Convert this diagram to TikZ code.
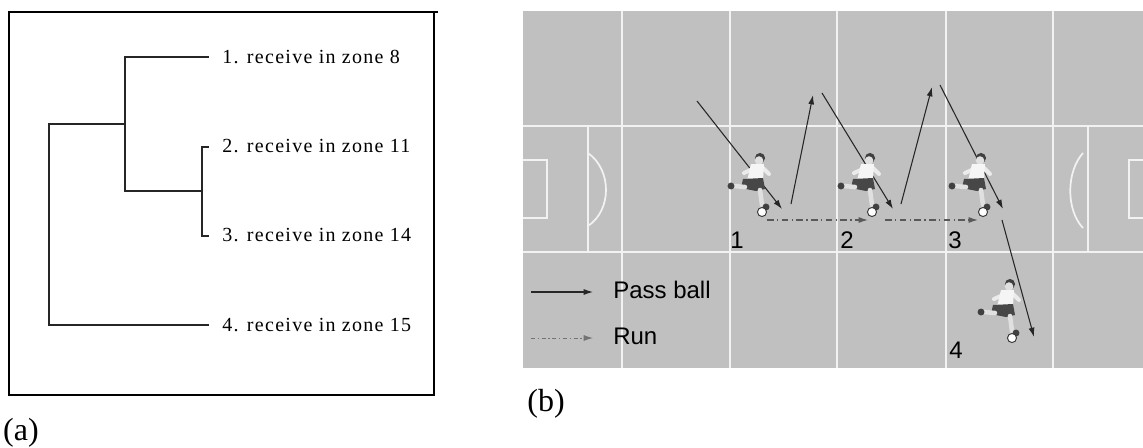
\documentclass[tikz,border=0pt]{standalone}
\usepackage{fontspec}
\setmainfont{Liberation Serif}
\setsansfont{Liberation Sans}
\newfontfamily\treefont[LetterSpace=6.5]{Liberation Serif}
\usetikzlibrary{arrows.meta}

\definecolor{pitch}{RGB}{192,192,192}

\tikzset{
  treeline/.style={line width=1.1pt, black!85},
  leaf/.style={anchor=west, inner sep=0pt, font=\treefont\fontsize{15}{17}\selectfont},
  pitchline/.style={white!95!black, line width=1.3pt},
  pass/.style={line width=0.8pt, black!85, -{Latex[length=7pt,width=4.5pt]}},
  run/.style={line width=0.9pt, black!65, dash pattern=on 5pt off 2.5pt on 1pt off 2.5pt, -{Latex[length=7pt,width=4.5pt]}},
  tag/.style={font=\sffamily\fontsize{18}{20}\selectfont, inner sep=0pt},
  player/.pic={
    % hair and face
    \fill[black!75] (1,-1) circle (3.8pt);
    \fill[black!12] (0,1.5) circle (3.2pt);
    % arms
    \draw[black!8, line width=3pt, line cap=round] (-4,9) -- (-15,14);
    \draw[black!8, line width=3pt, line cap=round] (4,9) -- (10,15);
    % shirt
    \fill[black!4] (-8,5) -- (5,5) -- (4,21) -- (-12,22) -- cycle;
    % shorts
    \fill[black!72] (-16,20) -- (4,19) -- (6,30) -- (-3,32) -- (-18,29) -- cycle;
    % legs
    \draw[black!12, line width=3.4pt, line cap=round] (-14,28) -- (-25,27);
    \draw[black!12, line width=3.4pt, line cap=round] (1,31) -- (3,46);
    % boots
    \fill[black!75] (-28,27) circle (2.6pt);
    \fill[black!75] (7,48) circle (2.6pt);
    % ball
    \filldraw[fill=white, draw=black!80, line width=0.7pt] (3,53) circle (3.4pt);
  }
}

\begin{document}
\begin{tikzpicture}[x=0.75pt, y=-0.75pt]
    \useasboundingbox (0,0) rectangle (1143,447);

    % (a) decision tree
    \draw[line width=1.5pt] (9,12) rectangle (434,395);
    \draw[line width=1.5pt] (434,12) -- (438,12);

    \node[leaf] (l1) at (222,57) {1. receive in zone 8};
    \node[leaf] (l2) at (222,146) {2. receive in zone 11};
    \node[leaf] (l3) at (222,235) {3. receive in zone 14};
    \node[leaf] (l4) at (222,325) {4. receive in zone 15};

    \coordinate (e1) at (209,57);
    \coordinate (e2) at (209,147);
    \coordinate (e3) at (209,236);
    \coordinate (e4) at (209,325);
    \coordinate (m) at (125,191);
    \coordinate (n) at (202,191);
    \coordinate (r) at (49,124);

    \draw[treeline] (e1) -| (m) -- (n);
    \draw[treeline] (e2) -| (n) |- (e3);
    \draw[treeline] (e4) -| (r) -- (m |- r);

    \node[font=\fontsize{24}{28}\selectfont, inner sep=0pt] (capa) at (21,433) {(a)};

    % (b) pitch
    \fill[pitch] (523,11) rectangle (1143,368);
    \draw[pitchline] (523,126) -- (1143,126);
    \draw[pitchline] (523,252) -- (1143,252);
    \foreach \x in {622,730,946,1053}
        \draw[pitchline] (\x,11) -- (\x,368);
    \draw[pitchline, line width=1.7pt] (837,11) -- (837,368);

    % left box
    \draw[pitchline] (588,126) -- (588,252);
    \draw[pitchline] (523,160) -- (547,160) -- (547,218) -- (523,218);
    \draw[pitchline] (588,153) .. controls (612,170) and (612,210) .. (588,226);

    % right box
    \draw[pitchline] (1088,126) -- (1088,252);
    \draw[pitchline] (1143,160) -- (1129,160) -- (1129,218) -- (1143,218);
    \draw[pitchline] (1083,153) .. controls (1066,172) and (1066,210) .. (1083,228);

    % pass and run points
    \coordinate (s0) at (697,101);
    \coordinate (k1) at (782,209);
    \coordinate (k1b) at (791,204);
    \coordinate (w1) at (813,95);
    \coordinate (w1b) at (822,93);
    \coordinate (k2) at (893,209);
    \coordinate (k2b) at (901,204);
    \coordinate (w2) at (932,87);
    \coordinate (w2b) at (940,85);
    \coordinate (k3) at (1003,209);
    \coordinate (k3b) at (1002,220);
    \coordinate (k4) at (1034,337);

    \coordinate (g1) at (767,220);
    \coordinate (g2) at (868,220);
    \coordinate (g2b) at (885,220);
    \coordinate (g3) at (978,220);

    \draw[pass] (s0) -- (k1);
    \draw[pass] (k1b) -- (w1);
    \draw[pass] (w1b) -- (k2);
    \draw[pass] (k2b) -- (w2);
    \draw[pass] (w2b) -- (k3);
    \draw[pass] (k3b) -- (k4);

    \draw[run] (g1) -- (g2);
    \draw[run] (g2b) -- (g3);

    % players
    \pic (p1) at (759,159) {player};
    \pic (p2) at (869,159) {player};
    \pic (p3) at (980,159) {player};
    \pic (p4) at (1009,285) {player};

    \node[tag] (n1) at (737,240) {1};
    \node[tag] (n2) at (847,240) {2};
    \node[tag] (n3) at (955,240) {3};
    \node[tag] (n4) at (956,350) {4};

    % legend
    \coordinate (lp1) at (531,292);
    \coordinate (lp2) at (593,292);
    \coordinate (lr1) at (531,338);
    \coordinate (lr2) at (593,338);
    \draw[pass] (lp1) -- (lp2);
    \draw[run, line width=0.7pt, black!55, dash pattern=on 3pt off 2pt on 1pt off 2pt] (lr1) -- (lr2);
    \node[tag, anchor=west] (lpass) at (613,290) {Pass ball};
    \node[tag, anchor=west] (lrun) at (613,336) {Run};

    \node[font=\fontsize{24}{28}\selectfont, inner sep=0pt] (capb) at (546,404) {(b)};
\end{tikzpicture}
\end{document}
